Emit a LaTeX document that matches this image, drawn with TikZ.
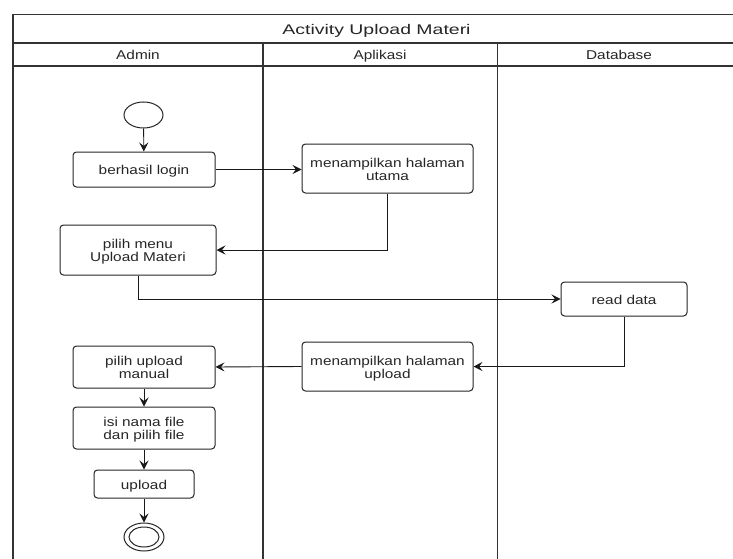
\documentclass[tikz,border=0pt]{standalone}
\usepackage{fontspec}
\setmainfont{Liberation Sans}
\usepackage{graphicx}
\usetikzlibrary{arrows.meta,shapes.geometric}

% label text, stretched horizontally and set slightly low; lines separated with \\
\newcommand{\lbl}[2][1.2]{\raisebox{-2.5pt}[\height][\depth]{\scalebox{#1}[1]{\begin{tabular}{@{}c@{}}#2\end{tabular}}}}

\begin{document}
\begin{tikzpicture}[x=1pt,y=-1pt,
  lane/.style={draw=black!80, line width=1.2pt},
  act/.style={draw=black!85, line width=1pt, rounded corners=3.5pt, inner sep=0pt,
    font=\fontsize{12.8}{12.7}\selectfont, text=black!85},
  hdr/.style={inner sep=0pt, font=\fontsize{12.8}{12.7}\selectfont, text=black!85},
  ttl/.style={inner sep=0pt, font=\fontsize{14}{14}\selectfont, text=black!85},
  dot/.style={draw=black!85, line width=1pt, ellipse, inner sep=0pt},
  flow/.style={draw=black!90, line width=0.9pt, -{Stealth[length=9pt,width=9pt,inset=3.5pt]}}]

\useasboundingbox (0,0) rectangle (733,559);
\fill[white] (0,0) rectangle (733,559);
\clip (0,0) rectangle (733,559);

% swimlane frame
\draw[lane] (740,14.7) -- (13,14.7) -- (13,570);
\draw[lane] (13,43) -- (740,43);
\draw[lane] (13,66) -- (740,66);
\draw[lane] (263,43) -- (263,570);
\draw[lane] (497.7,43) -- (497.7,570);

\node[ttl] (title) at (376.5,29) {\lbl[1.39]{Activity Upload Materi}};
\node[hdr] (hAdmin) at (138,54.5) {\lbl{Admin}};
\node[hdr] (hApp) at (380,54.5) {\lbl{Aplikasi}};
\node[hdr] (hDb) at (619,54.5) {\lbl{Database}};

% initial and final states
\node[dot, minimum width=39pt, minimum height=26pt] (start) at (143.5,115) {};
\node[dot, minimum width=40pt, minimum height=28pt] (end) at (144,537) {};
\node[dot, minimum width=30pt, minimum height=20pt] (endin) at (144,537) {};

% activities
\node[act, minimum width=142pt, minimum height=35pt] (login) at (144,169.5) {\lbl{berhasil login}};
\node[act, minimum width=171pt, minimum height=49pt] (utama) at (387.5,168.5) {\lbl{menampilkan halaman\\utama}};
\node[act, minimum width=156pt, minimum height=50pt] (menu) at (138,250) {\lbl{pilih menu\\Upload Materi}};
\node[act, minimum width=126pt, minimum height=34pt] (read) at (624,299) {\lbl{read data}};
\node[act, minimum width=171pt, minimum height=49pt] (upl) at (387.5,366.5) {\lbl{menampilkan halaman\\upload}};
\node[act, minimum width=142pt, minimum height=42pt] (manual) at (144,367) {\lbl{pilih upload\\manual}};
\node[act, minimum width=142pt, minimum height=42pt] (isi) at (144,428) {\lbl{isi nama file\\dan pilih file}};
\node[act, minimum width=100pt, minimum height=28pt] (upload) at (144,484) {\lbl{upload}};

% control flow
\draw[flow] (start) -- (login);
\draw[flow] (login.east) -- (utama.west |- login.east);
\draw[flow] (utama.south) |- (menu.east);
\draw[flow] (menu.south) |- (read.west);
\draw[flow] (read.south) |- (upl.east);
\draw[flow] (upl.west) -- (manual.east);
\draw[flow] (manual) -- (isi);
\draw[flow] (isi) -- (upload);
\draw[flow] (upload) -- (end);
\end{tikzpicture}
\end{document}
